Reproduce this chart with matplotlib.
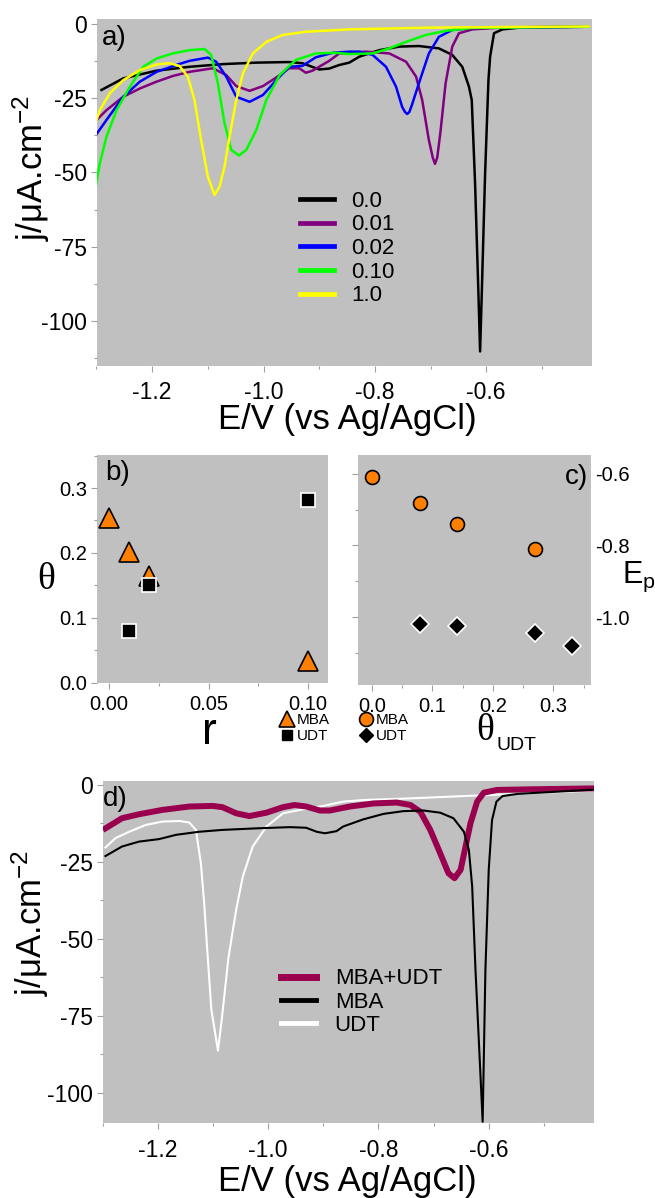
import matplotlib
matplotlib.use('Agg')
import matplotlib.pyplot as plt
from matplotlib.ticker import MultipleLocator, FormatStrFormatter
from matplotlib.lines import Line2D

plt.rcParams['font.family'] = ['Liberation Sans', 'DejaVu Sans']
plt.rcParams['axes.unicode_minus'] = False
plt.rcParams['mathtext.fontset'] = 'custom'
plt.rcParams['mathtext.rm'] = 'Liberation Sans'
plt.rcParams['mathtext.default'] = 'regular'

# ---- panel a: stripping curves for several r values ----
a_labels = ['0.0', '0.01', '0.02', '0.10', '1.0']
a_colors = ['black', '#800080', '#0000FF', '#00FF00', '#FFFF00']

e00_x = [-1.291, -1.252, -1.192, -1.133, -1.073, -1.013, -0.954, -0.930, -0.900, -0.882, -0.864, -0.846,
         -0.828, -0.792, -0.756, -0.721, -0.685, -0.661, -0.643, -0.631, -0.626, -0.620, -0.614, -0.611,
         -0.608, -0.602, -0.596, -0.593, -0.586, -0.571, -0.535, -0.416]
e00_y = [-22.2, -18.3, -15.7, -14.4, -13.5, -13.0, -12.8, -13.2, -15.3, -15.0, -13.8, -13.0,
         -11.0, -8.8, -7.6, -7.4, -8.2, -10.4, -14.4, -21.1, -25.6, -53.7, -90.8, -110.3,
         -90.8, -50.3, -18.9, -11.0, -3.1, -1.8, -1.1, -0.9]

e01_x = [-1.303, -1.282, -1.252, -1.222, -1.192, -1.163, -1.133, -1.091, -1.067, -1.049, -1.025, -1.001,
         -0.977, -0.954, -0.936, -0.924, -0.912, -0.882, -0.864, -0.816, -0.774, -0.744, -0.726, -0.715,
         -0.703, -0.696, -0.692, -0.688, -0.682, -0.673, -0.661, -0.649, -0.625, -0.565, -0.416]
e01_y = [-32.9, -29.0, -24.5, -21.7, -19.4, -17.5, -16.1, -14.9, -17.2, -20.9, -22.5, -20.9,
         -18.0, -14.9, -14.9, -16.4, -15.7, -12.4, -9.9, -9.3, -9.9, -12.7, -17.7, -25.6,
         -39.1, -45.0, -47.1, -45.0, -36.0, -20.0, -7.6, -3.1, -1.8, -1.1, -0.9]

e02_x = [-1.303, -1.282, -1.252, -1.222, -1.192, -1.157, -1.133, -1.100, -1.085, -1.067, -1.049, -1.025,
         -1.001, -0.977, -0.954, -0.930, -0.906, -0.876, -0.846, -0.828, -0.804, -0.780, -0.762, -0.751,
         -0.746, -0.742, -0.738, -0.733, -0.721, -0.703, -0.685, -0.661, -0.625, -0.416]
e02_y = [-37.9, -32.3, -24.5, -19.4, -16.1, -13.8, -12.4, -11.3, -12.7, -17.7, -24.5, -26.2,
         -23.9, -18.9, -14.4, -14.1, -11.2, -9.7, -9.3, -9.3, -10.4, -14.4, -21.1, -27.9,
         -29.6, -30.3, -29.6, -27.0, -20.0, -9.9, -4.3, -2.0, -1.3, -0.9]

e10_x = [-1.303, -1.294, -1.282, -1.264, -1.240, -1.216, -1.192, -1.163, -1.133, -1.106, -1.094, -1.082,
         -1.070, -1.058, -1.044, -1.031, -1.013, -0.995, -0.971, -0.942, -0.906, -0.870, -0.846, -0.804,
         -0.774, -0.744, -0.709, -0.673, -0.625, -0.416]
e10_y = [-56.5, -46.9, -37.9, -29.0, -21.1, -14.4, -11.6, -9.9, -8.8, -8.4, -10.4, -20.0,
         -33.4, -42.4, -44.3, -42.4, -35.7, -25.6, -17.2, -12.1, -9.9, -9.7, -10.1, -9.9,
         -8.2, -6.0, -3.7, -2.3, -1.3, -0.9]

e1_x = [-1.303, -1.294, -1.276, -1.252, -1.222, -1.192, -1.169, -1.151, -1.136, -1.124, -1.112, -1.100,
        -1.088, -1.079, -1.070, -1.061, -1.049, -1.037, -1.019, -0.995, -0.966, -0.924, -0.846, -0.700,
        -0.416]
e1_y = [-34.0, -29.0, -23.3, -18.9, -15.5, -13.6, -13.2, -14.1, -17.7, -25.6, -39.1, -51.4,
        -57.6, -54.8, -48.0, -37.9, -25.6, -16.6, -9.9, -6.0, -3.7, -2.6, -1.8, -1.2,
        -0.8]

a_x = [e00_x, e01_x, e02_x, e10_x, e1_x]
a_y = [e00_y, e01_y, e02_y, e10_y, e1_y]

# ---- panel b: theta vs r ----
b_r_mba = [0.00, 0.01, 0.02, 0.10]
b_th_mba = [0.254, 0.202, 0.165, 0.033]
b_r_udt = [0.01, 0.02, 0.10]
b_th_udt = [0.079, 0.150, 0.281]

# ---- panel c: Ep vs theta_UDT ----
c_th_mba = [0.00, 0.08, 0.14, 0.27]
c_ep_mba = [-0.609, -0.680, -0.740, -0.811]
c_th_udt = [0.08, 0.14, 0.27, 0.33]
c_ep_udt = [-1.020, -1.025, -1.046, -1.081]

# ---- panel d: mixed vs pure SAMs ----
mix_x = [-1.295, -1.265, -1.234, -1.192, -1.143, -1.101, -1.083, -1.058, -1.034, -1.003, -0.973, -0.952,
         -0.931, -0.906, -0.888, -0.852, -0.809, -0.767, -0.742, -0.724, -0.706, -0.688, -0.673, -0.662,
         -0.651, -0.642, -0.633, -0.621, -0.609, -0.585, -0.524, -0.409]
mix_y = [-14.1, -10.8, -9.5, -8.1, -7.0, -6.8, -7.2, -9.2, -10.1, -9.0, -7.2, -6.5,
         -7.0, -8.3, -8.3, -7.0, -6.0, -5.7, -6.5, -8.7, -14.6, -22.2, -28.7, -30.3,
         -27.6, -20.0, -12.4, -5.4, -2.5, -1.6, -1.4, -1.1]

mba_x = [-1.295, -1.265, -1.234, -1.198, -1.167, -1.125, -1.083, -1.022, -0.961, -0.931, -0.912, -0.897,
         -0.876, -0.864, -0.828, -0.791, -0.755, -0.718, -0.688, -0.664, -0.645, -0.636, -0.630, -0.624,
         -0.611, -0.606, -0.600, -0.594, -0.586, -0.575, -0.548, -0.409]
mba_y = [-23.1, -20.0, -18.4, -17.6, -16.2, -15.2, -14.6, -14.1, -13.7, -13.9, -15.2, -15.7,
         -15.0, -13.5, -11.2, -9.4, -8.5, -8.3, -9.0, -10.8, -15.2, -21.1, -33.0, -60.1,
         -109.5, -60.1, -27.6, -11.4, -5.4, -3.6, -2.9, -1.5]

udt_x = [-1.295, -1.277, -1.252, -1.222, -1.192, -1.161, -1.143, -1.131, -1.122, -1.116, -1.110, -1.103,
         -1.097, -1.091, -1.084, -1.072, -1.058, -1.046, -1.028, -1.003, -0.973, -0.937, -0.900, -0.864,
         -0.828, -0.736, -0.645, -0.524, -0.409]
udt_y = [-20.3, -17.3, -15.2, -13.0, -11.9, -11.7, -12.2, -14.6, -25.4, -38.4, -54.7, -73.1,
         -79.6, -86.4, -76.0, -56.2, -40.6, -29.8, -20.0, -13.5, -9.2, -7.9, -6.8, -5.4,
         -4.9, -4.3, -3.6, -2.7, -1.8]

W, H = 655, 1198
BG = '#C0C0C0'
TICK = '#A0A0A0'
ORANGE = '#FF8000'

fig = plt.figure(figsize=(W / 100, H / 100), dpi=100)


def add_ax(l, t, r, b):
    ax = fig.add_axes([l / W, 1 - b / H, (r - l) / W, (b - t) / H])
    ax.set_facecolor(BG)
    for s in ax.spines.values():
        s.set_visible(False)
    ax.tick_params(which='both', direction='out', color=TICK, width=0.8)
    ax.tick_params(which='major', length=4)
    ax.tick_params(which='minor', length=2.5)
    return ax


def ftext(x, y, s, **kw):
    fig.text(x / W, 1 - y / H, s, **kw)


# panel a
ax = add_ax(96.5, 19, 592, 366)
for xs, ys, c, lab in zip(a_x, a_y, a_colors, a_labels):
    ax.plot(xs, ys, color=c, lw=1.8, label=lab)
ax.set_xlim(-1.3, -0.41)
ax.set_ylim(-115.2, 1.7)
ax.xaxis.set_major_locator(MultipleLocator(0.2))
ax.xaxis.set_minor_locator(MultipleLocator(0.1))
ax.xaxis.set_major_formatter(FormatStrFormatter('%.1f'))
ax.yaxis.set_major_locator(MultipleLocator(25))
ax.yaxis.set_minor_locator(MultipleLocator(12.5))
ax.tick_params(labelsize=16.5, pad=3)
ax.tick_params(axis='x', pad=7)
leg = ax.legend(loc='upper left', bbox_to_anchor=(0.41, 0.505), frameon=False, fontsize=16,
                handlelength=1.55, handletextpad=0.75, labelspacing=0.12, borderpad=0, borderaxespad=0)
for ln in leg.get_lines():
    ln.set_linewidth(3.4)
ax.text(0.011, 0.945, 'a)', transform=ax.transAxes, fontsize=20, ha='left', va='center')
ftext(31.5, 168, r'j/μA.cm$^{-2}$', rotation=90, fontsize=25, ha='center', va='center')
ftext(347, 420, 'E/V (vs Ag/AgCl)', fontsize=25, ha='center', va='center')

# panel b
ax = add_ax(97, 455, 328, 682.5)
ax.plot(b_r_mba, b_th_mba, ls='none', marker='^', ms=14, mfc=ORANGE, mec='black', mew=1.2)
ax.plot(b_r_udt, b_th_udt, ls='none', marker='s', ms=9.5, mfc='black', mec='white', mew=1.2)
ax.set_xlim(-0.006, 0.110)
ax.set_ylim(0, 0.351)
ax.xaxis.set_major_locator(MultipleLocator(0.05))
ax.xaxis.set_minor_locator(MultipleLocator(0.025))
ax.xaxis.set_major_formatter(FormatStrFormatter('%.2f'))
ax.yaxis.set_major_locator(MultipleLocator(0.1))
ax.yaxis.set_minor_locator(MultipleLocator(0.05))
ax.yaxis.set_major_formatter(FormatStrFormatter('%.1f'))
ax.tick_params(labelsize=14.5, pad=3)
ax.tick_params(axis='x', pad=5)
ax.text(0.035, 0.923, 'b)', transform=ax.transAxes, fontsize=20, ha='left', va='center')
hb = [Line2D([], [], ls='none', marker='^', ms=12, mfc=ORANGE, mec='black', mew=1.2),
      Line2D([], [], ls='none', marker='s', ms=7, mfc='black', mec='black')]
ax.legend(hb, ['MBA', 'UDT'], loc='upper left', bbox_to_anchor=(279 / W, 1 - 713 / H),
          bbox_transform=fig.transFigure, frameon=False, fontsize=11, handlelength=1.0,
          handletextpad=0.15, labelspacing=0.15, borderpad=0, borderaxespad=0)
ftext(46, 580, 'θ', fontsize=27, family=['Liberation Serif', 'DejaVu Serif'], ha='center', va='center')
ftext(209, 733, 'r', fontsize=32, ha='center', va='center')

# panel c
ax = add_ax(358, 455, 591, 685)
ax.plot(c_th_mba, c_ep_mba, ls='none', marker='o', ms=10, mfc=ORANGE, mec='black', mew=1.2)
ax.plot(c_th_udt, c_ep_udt, ls='none', marker='D', ms=9, mfc='black', mec='white', mew=1.2)
ax.set_xlim(-0.0226, 0.362)
ax.set_ylim(-1.19, -0.547)
ax.xaxis.set_major_locator(MultipleLocator(0.1))
ax.xaxis.set_minor_locator(MultipleLocator(0.05))
ax.xaxis.set_major_formatter(FormatStrFormatter('%.1f'))
ax.yaxis.set_major_locator(MultipleLocator(0.2))
ax.yaxis.set_minor_locator(MultipleLocator(0.1))
ax.yaxis.set_major_formatter(FormatStrFormatter('%.1f'))
ax.tick_params(labelsize=14.5)
ax.tick_params(axis='x', pad=5)
ax.tick_params(axis='y', which='both', left=True, right=False, labelleft=False, labelright=True, pad=-1)
ax.text(0.987, 0.906, 'c)', transform=ax.transAxes, fontsize=20, ha='right', va='center')
hc = [Line2D([], [], ls='none', marker='o', ms=10, mfc=ORANGE, mec='black', mew=1.2),
      Line2D([], [], ls='none', marker='D', ms=7, mfc='black', mec='black')]
ax.legend(hc, ['MBA', 'UDT'], loc='upper left', bbox_to_anchor=(358 / W, 1 - 713 / H),
          bbox_transform=fig.transFigure, frameon=False, fontsize=11, handlelength=1.0,
          handletextpad=0.15, labelspacing=0.15, borderpad=0, borderaxespad=0)
ftext(622, 577, 'E$_{p}$', fontsize=22, ha='left', va='center')
ftext(485, 731, 'θ', fontsize=27, family=['Liberation Serif', 'DejaVu Serif'], ha='center', va='center')
ftext(496, 746, 'UDT', fontsize=14, ha='left', va='center')

# panel d
ax = add_ax(102.7, 780.7, 593.5, 1123.3)
ax.plot(mix_x, mix_y, color='#99004D', lw=4.3, label='MBA+UDT', zorder=2)
ax.plot(mba_x, mba_y, color='black', lw=1.5, label='MBA', zorder=3)
ax.plot(udt_x, udt_y, color='white', lw=1.5, label='UDT', zorder=1)
ax.set_xlim(-1.3, -0.41)
ax.set_ylim(-110, 1.4)
ax.xaxis.set_major_locator(MultipleLocator(0.2))
ax.xaxis.set_minor_locator(MultipleLocator(0.1))
ax.xaxis.set_major_formatter(FormatStrFormatter('%.1f'))
ax.yaxis.set_major_locator(MultipleLocator(25))
ax.yaxis.set_minor_locator(MultipleLocator(12.5))
ax.tick_params(labelsize=16.5, pad=3)
ax.tick_params(axis='x', pad=7)
leg = ax.legend(loc='upper left', bbox_to_anchor=(0.364, 0.452), frameon=False, fontsize=16,
                handlelength=1.55, handletextpad=0.85, labelspacing=0.1, borderpad=0, borderaxespad=0)
for ln, w in zip(leg.get_lines(), [5, 3.5, 3.5]):
    ln.set_linewidth(w)
ax.text(0.001, 0.947, 'd)', transform=ax.transAxes, fontsize=20, ha='left', va='center')
ftext(30.5, 923, r'j/μA.cm$^{-2}$', rotation=90, fontsize=25, ha='center', va='center')
ftext(347, 1181, 'E/V (vs Ag/AgCl)', fontsize=25, ha='center', va='center')

fig.savefig('out.png', dpi=100, facecolor='white')
